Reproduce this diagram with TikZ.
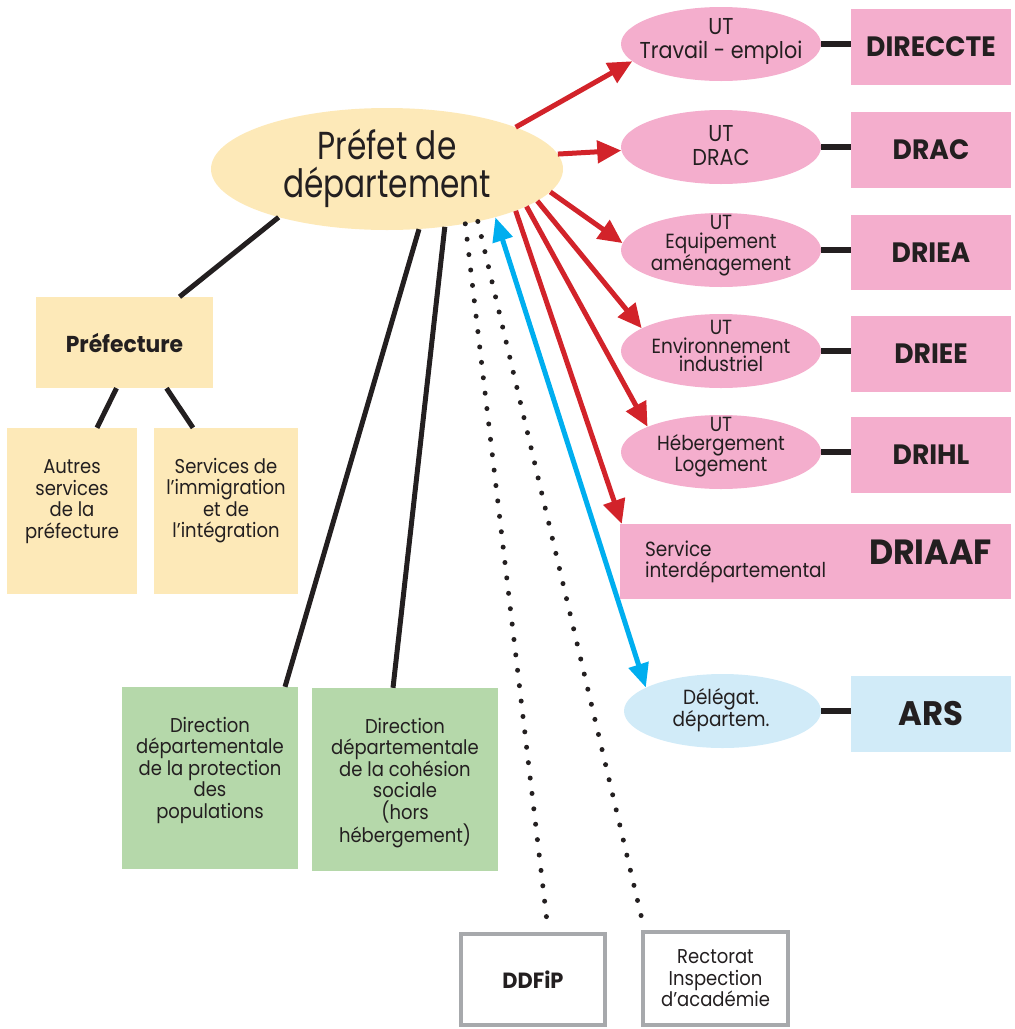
\documentclass[tikz,border=0pt]{standalone}
\usepackage{fontspec}
\setmainfont{Poppins}[FakeStretch=0.9, BoldFeatures={FakeStretch=0.95}]
\newfontfamily\prefetfam{Poppins}[FakeStretch=0.8]
\usetikzlibrary{shapes.geometric,arrows.meta,calc}
\definecolor{yel}{HTML}{FDE9B8}
\definecolor{pnk}{HTML}{F4AECD}
\definecolor{grn}{HTML}{B5D8AA}
\definecolor{lblue}{HTML}{D1EBF8}
\definecolor{redc}{HTML}{D2232A}
\definecolor{bluec}{HTML}{00AEEF}
\definecolor{ink}{HTML}{231F20}
\definecolor{grayb}{HTML}{A7A9AC}
\newcommand\fPrefet{\prefetfam\fontsize{39}{38}\selectfont}
\newcommand\fUTa{\fontsize{23}{24}\selectfont}
\newcommand\fUTb{\fontsize{20.5}{18.5}\selectfont}
\newcommand\fBig{\fontsize{28}{30}\selectfont\bfseries}
\newcommand\fSmall{\fontsize{20}{21.5}\selectfont}
\begin{document}
\begin{tikzpicture}[x=1pt,y=-1pt,
  ell/.style={ellipse, fill=pnk, inner sep=0pt, draw=none},
  etxt/.style={align=center, inner sep=0pt, text=ink},
  rbox/.style={rectangle, fill=pnk, inner sep=0pt, text=ink, align=center},
  ybox/.style={rectangle, fill=yel, inner sep=0pt, text=ink, align=center},
  gbox/.style={rectangle, fill=grn, inner sep=0pt, text=ink, align=center},
  wbox/.style={rectangle, fill=white, draw=grayb, line width=4pt, inner sep=0pt, text=ink, align=center},
  toplbl/.style={anchor=north, align=center, inner sep=0pt, text=ink, font=\fSmall},
  ln/.style={line width=5pt, draw=ink},
  hln/.style={line width=6pt, draw=ink},
  redarr/.style={line width=5pt, draw=redc, -{Triangle[length=24pt,width=22pt]}},
  bluearr/.style={line width=5pt, draw=bluec, {Triangle[length=24pt,width=20pt]}-{Triangle[length=24pt,width=20pt]}},
  dotln/.style={line width=5pt, draw=ink, line cap=round, dash pattern=on 0pt off 15.5pt}
]
\useasboundingbox (0,0) rectangle (1015,1029);

% main ellipse
\node[ell, fill=yel, minimum width=352pt, minimum height=122pt] (prefet) at (387,169) {};
\node[etxt, font=\fPrefet] (prefett) at (387,168) {Préfet de\\département};

% UT ellipses
\node[ell, minimum width=200pt, minimum height=74pt] (ut1) at (721,44) {};
\node[ell, minimum width=200pt, minimum height=74pt] (ut2) at (721,147) {};
\node[ell, minimum width=200pt, minimum height=74pt] (ut3) at (721,250) {};
\node[ell, minimum width=200pt, minimum height=74pt] (ut4) at (721,351) {};
\node[ell, minimum width=200pt, minimum height=74pt] (ut5) at (721,452) {};
\node[ell, fill=lblue, minimum width=197pt, minimum height=74pt] (dl) at (722.5,711) {};

\node[etxt, font=\fUTa] (ut1t) at (721,41) {UT\\Travail - emploi};
\node[etxt, font=\fUTa] (ut2t) at (721,146) {UT\\DRAC};
\node[etxt, font=\fUTb] (ut3t) at (721,246) {UT\\Equipement\\aménagement};
\node[etxt, font=\fUTb] (ut4t) at (721,346) {UT\\Environnement\\industriel};
\node[etxt, font=\fUTb] (ut5t) at (721,447) {UT\\Hébergement\\Logement};
\node[etxt, font=\fUTb] (dlt) at (721,710) {Délégat.\\départem.};

% right boxes
\node[rbox, minimum width=160pt, minimum height=76pt, font=\fBig] (direccte) at (931,47) {DIRECCTE};
\node[rbox, minimum width=160pt, minimum height=76pt, font=\fBig] (drac) at (931,150) {DRAC};
\node[rbox, minimum width=160pt, minimum height=75pt, font=\fBig] (driea) at (931,252.5) {DRIEA};
\node[rbox, minimum width=160pt, minimum height=76pt, font=\fBig] (driee) at (931,354) {DRIEE};
\node[rbox, minimum width=160pt, minimum height=76pt, font=\fBig] (drihl) at (931,455) {DRIHL};
\node[rbox, fill=lblue, minimum width=160pt, minimum height=76pt, font=\fontsize{34}{36}\selectfont\bfseries] (ars) at (931,714) {ARS};
\node[rbox, minimum width=391pt, minimum height=75pt] (driaaf) at (815.5,561.5)
  {\parbox{391pt}{\hspace*{25pt}\parbox[c]{200pt}{\raggedright\fontsize{20.5}{21}\selectfont Service\\interdépartemental}\hfill{\fontsize{35}{36}\selectfont\bfseries DRIAAF}\hspace*{19pt}}};

% left side
\node[ybox, minimum width=177pt, minimum height=91pt, font=\fontsize{23}{24}\selectfont\bfseries] (prefecture) at (124.5,342.5) {Préfecture};
\node[ybox, minimum width=130pt, minimum height=166pt,
  label={[toplbl, yshift=-32pt]north:{Autres\\services\\de la\\préfecture}}] (autres) at (72,511) {};
\node[ybox, minimum width=144pt, minimum height=166pt,
  label={[toplbl, yshift=-30pt]north:{Services de\\l’immigration\\et de\\l’intégration}}] (immig) at (226,511) {};
\node[gbox, minimum width=176pt, minimum height=182pt,
  label={[toplbl, yshift=-30pt]north:{Direction\\départementale\\de la protection\\des\\populations}}] (ddpp) at (210,778) {};
\node[gbox, minimum width=186pt, minimum height=183pt,
  label={[toplbl, yshift=-30pt]north:{Direction\\départementale\\de la cohésion\\sociale\\(hors\\hébergement)}}] (ddcs) at (405,779.5) {};

% bottom boxes
\node[wbox, minimum width=144pt, minimum height=91pt, font=\fontsize{22}{24}\selectfont\bfseries] (ddfip) at (533,979.5) {DDFiP};
\node[wbox, minimum width=145pt, minimum height=93pt, font=\fSmall] (rect) at (715.5,978.5) {Rectorat\\Inspection\\d’académie};

% black connectors
\draw[ln] (prefet.204.8) -- ($(prefecture.north)+(55,0)$);
\draw[ln] ($(prefecture.south)+(-8,0)$) -- ($(autres.north)+(25,0)$);
\draw[ln] ($(prefecture.south)+(42,0)$) -- ($(immig.north)+(-33,0)$);
\draw[ln] (prefet.298.8) -- ($(ddpp.north)+(75,0)$);
\draw[ln] (prefet.315) -- ($(ddcs.north)+(-12,0)$);

% dotted
\draw[dotln] (prefet.-35) -- ($(ddfip.north)+(15,-2)$);
\draw[dotln] (prefet.-30) -- ($(rect.north west)+(3,-2)$);

% horizontal
\draw[hln] (ut1.east) -- (ut1.east -| direccte.west);
\draw[hln] (ut2.east) -- (ut2.east -| drac.west);
\draw[hln] (ut3.east) -- (ut3.east -| driea.west);
\draw[hln] (ut4.east) -- (ut4.east -| driee.west);
\draw[hln] (ut5.east) -- (ut5.east -| drihl.west);
\draw[hln] (dl.east) -- (dl.east -| ars.west);

% red arrows
\draw[redarr] (prefet.18) -- (ut1.191.6);
\draw[redarr] (prefet.5.4) -- (ut2.182);
\draw[redarr] (prefet.-8.4) -- (ut3.176);
\draw[redarr] (prefet.-12.9) -- (ut4.164.7);
\draw[redarr] (prefet.-15.2) -- (ut5.161);
\draw[redarr] (prefet.-18.6) -- ($(driaaf.north west)+(2,0)$);

% blue
\draw[bluearr] (prefet.-24.8) -- (dl.163);
\end{tikzpicture}
\end{document}
